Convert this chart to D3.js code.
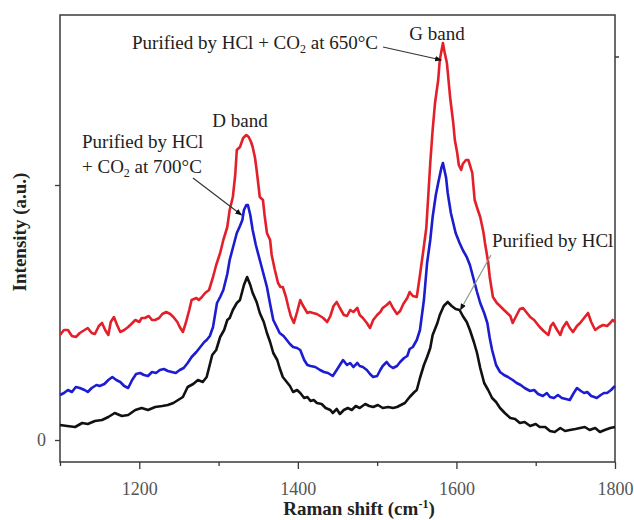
<!DOCTYPE html>
<html>
<head>
<meta charset="utf-8">
<script src="https://cdn.jsdelivr.net/npm/d3@7"></script>
<style>
  body { margin: 0; background: #fff; }
  text { font-family: "Liberation Serif", "Times New Roman", serif; }
</style>
</head>
<body>
<script>
// Raman spectra, [shift cm-1, intensity a.u.]
const hcl = [
  [1100,15],[1109,14],[1119,13],[1128,17],[1135,16],[1144,19],[1153,20],[1161,23],[1169,27],[1178,24],
  [1186,25],[1195,30],[1203,32],[1211,30],[1220,33],[1229,34],[1236,35],[1243,37],[1249,40],[1255,43],
  [1261,53],[1268,56],[1274,60],[1280,58],[1285,63],[1292,85],[1297,90],[1302,103],[1307,110],[1311,120],
  [1314,122],[1318,130],[1323,137],[1327,140],[1332,155],[1336,163],[1340,155],[1343,147],[1348,138],[1352,127],
  [1357,118],[1361,107],[1365,98],[1369,87],[1374,80],[1377,72],[1381,63],[1386,58],[1390,54],[1394,48],
  [1399,50],[1403,47],[1408,42],[1412,43],[1416,39],[1420,40],[1424,37],[1430,36],[1435,32],[1441,30],
  [1444,27],[1449,31],[1453,26],[1458,30],[1463,32],[1468,30],[1473,34],[1478,32],[1485,36],[1490,34],
  [1495,33],[1501,35],[1507,32],[1514,33],[1520,32],[1525,33],[1530,35],[1535,37],[1541,43],[1547,48],
  [1550,50],[1554,62],[1559,75],[1563,83],[1567,92],[1570,105],[1576,117],[1579,125],[1584,134],[1589,138],
  [1594,134],[1599,131],[1604,130],[1608,124],[1613,118],[1617,110],[1622,98],[1626,87],[1630,72],[1635,57],
  [1640,50],[1645,42],[1650,38],[1655,32],[1661,27],[1668,22],[1674,21],[1680,17],[1686,18],[1693,14],
  [1700,16],[1705,13],[1712,13],[1718,9],[1724,8],[1731,12],[1737,9],[1743,10],[1750,11],[1756,12],
  [1762,13],[1768,10],[1775,12],[1781,8],[1787,10],[1794,12],[1800,13]
];

const co2_700 = [
  [1100,45],[1105,47],[1110,50],[1115,48],[1120,53],[1125,52],[1131,50],[1135,48],[1140,52],[1146,55],
  [1150,54],[1156,56],[1161,60],[1166,63],[1171,60],[1176,58],[1181,54],[1186,52],[1191,60],[1196,66],
  [1201,67],[1206,65],[1211,64],[1216,68],[1221,67],[1226,70],[1231,71],[1236,69],[1241,68],[1246,67],
  [1251,70],[1256,72],[1261,77],[1266,83],[1272,88],[1277,93],[1282,98],[1285,100],[1289,104],[1293,113],
  [1298,137],[1302,143],[1306,150],[1311,166],[1314,180],[1319,195],[1323,207],[1327,214],[1330,220],[1332,230],
  [1335,235],[1337,235],[1340,225],[1343,210],[1347,195],[1352,180],[1356,168],[1361,153],[1365,136],[1369,120],
  [1374,112],[1377,107],[1382,104],[1386,100],[1390,96],[1394,93],[1399,92],[1403,90],[1408,80],[1412,75],
  [1416,74],[1422,73],[1428,70],[1433,68],[1438,67],[1444,64],[1449,70],[1453,75],[1457,80],[1462,75],
  [1466,77],[1470,73],[1475,77],[1478,74],[1482,73],[1487,70],[1491,66],[1495,63],[1500,64],[1504,70],
  [1507,74],[1512,78],[1516,74],[1520,72],[1525,74],[1529,78],[1534,82],[1538,84],[1541,91],[1545,93],
  [1550,100],[1554,110],[1559,140],[1563,177],[1567,200],[1570,223],[1574,245],[1577,257],[1581,272],[1583,277],
  [1587,262],[1589,247],[1593,227],[1596,217],[1599,207],[1604,197],[1608,190],[1613,183],[1617,175],[1621,163],
  [1626,148],[1630,137],[1635,127],[1639,117],[1642,102],[1645,90],[1650,75],[1655,68],[1660,65],[1665,63],
  [1671,60],[1676,57],[1681,55],[1686,52],[1693,49],[1698,50],[1703,46],[1709,44],[1714,47],[1718,43],
  [1723,42],[1728,45],[1733,42],[1738,41],[1743,40],[1748,47],[1752,52],[1757,49],[1761,47],[1765,48],
  [1770,44],[1774,43],[1777,42],[1782,45],[1786,47],[1790,47],[1795,50],[1800,54]
];

const co2_650 = [
  [1100,105],[1105,110],[1110,110],[1115,104],[1120,103],[1125,107],[1131,110],[1135,112],[1140,107],[1144,106],
  [1149,114],[1153,117],[1157,110],[1161,105],[1164,118],[1168,123],[1172,115],[1176,108],[1181,110],[1186,113],
  [1190,116],[1195,120],[1200,118],[1203,122],[1207,122],[1212,124],[1216,120],[1220,120],[1225,122],[1229,126],
  [1234,128],[1239,126],[1243,123],[1248,118],[1251,113],[1255,108],[1259,118],[1263,130],[1266,140],[1272,142],
  [1275,140],[1279,143],[1283,147],[1288,150],[1293,163],[1297,175],[1302,187],[1306,200],[1311,213],[1314,230],
  [1318,243],[1321,265],[1323,290],[1327,293],[1331,302],[1335,305],[1338,303],[1341,298],[1343,293],[1346,282],
  [1348,270],[1352,243],[1356,240],[1358,225],[1361,207],[1365,200],[1367,185],[1371,170],[1375,157],[1378,153],
  [1381,153],[1385,143],[1388,133],[1391,124],[1395,117],[1399,128],[1403,140],[1406,135],[1412,127],[1415,128],
  [1419,127],[1424,126],[1428,124],[1432,122],[1437,118],[1441,124],[1445,134],[1449,138],[1453,132],[1458,125],
  [1462,124],[1466,130],[1470,128],[1475,132],[1478,125],[1482,122],[1487,117],[1491,112],[1495,120],[1500,125],
  [1504,128],[1507,132],[1512,135],[1516,138],[1520,132],[1525,126],[1529,129],[1533,136],[1538,142],[1541,148],
  [1545,144],[1550,143],[1554,165],[1558,188],[1562,212],[1567,277],[1570,310],[1573,337],[1577,360],[1579,380],
  [1583,397],[1585,388],[1588,377],[1592,343],[1596,317],[1598,300],[1601,287],[1603,275],[1606,270],[1608,276],
  [1612,280],[1615,280],[1617,275],[1620,267],[1623,240],[1627,230],[1630,223],[1634,208],[1636,197],[1640,178],
  [1642,163],[1646,143],[1651,137],[1655,134],[1660,130],[1664,127],[1668,124],[1671,117],[1676,125],[1680,131],
  [1684,132],[1689,127],[1693,123],[1698,120],[1702,116],[1705,113],[1710,109],[1716,105],[1719,114],[1722,117],
  [1727,110],[1731,105],[1734,112],[1739,118],[1743,112],[1747,108],[1752,114],[1756,117],[1761,122],[1766,127],
  [1770,118],[1775,110],[1780,113],[1785,115],[1790,114],[1794,117],[1797,120],[1800,118]
];

const xMajor = [1200, 1400, 1600, 1800];
const xMinor = [1100, 1300, 1500, 1700];
const yTicks = [0, 255];

const width = 634, height = 520;
const margin = {top: 15, right: 19, bottom: 58, left: 60};

const svg = d3.select('body').append('svg')
    .attr('width', width)
    .attr('height', height);

const x = d3.scaleLinear()
    .domain([1100, 1800])
    .range([margin.left, width - margin.right]);

const y = d3.scaleLinear()
    .domain([-22, 425])
    .range([height - margin.bottom, margin.top]);

const axisColor = '#3a3a3a';
const labelColor = '#555';

// frame
svg.append('rect')
    .attr('x', x(1100))
    .attr('y', y(425))
    .attr('width', x(1800) - x(1100))
    .attr('height', y(-22) - y(425))
    .attr('fill', 'none')
    .attr('stroke', axisColor)
    .attr('stroke-width', 1.5);

// bottom axis
const xAxis = svg.append('g')
    .attr('transform', `translate(0,${y(-22)})`)
    .call(d3.axisBottom(x).tickValues(xMajor).tickSize(7).tickFormat(d3.format('d')));
xAxis.select('.domain').remove();
xAxis.selectAll('line').attr('stroke', axisColor).attr('stroke-width', 1.3);
xAxis.selectAll('text')
    .attr('dy', 0)
    .attr('y', 33)
    .style('font-family', '"Liberation Serif", serif')
    .style('font-size', '18px')
    .attr('fill', labelColor);

svg.append('g')
    .attr('transform', `translate(0,${y(-22)})`)
    .call(d3.axisBottom(x).tickValues(xMinor).tickSize(4).tickFormat(''))
    .call(g => g.select('.domain').remove())
    .selectAll('line').attr('stroke', axisColor).attr('stroke-width', 1.3);

// left axis
const yAxis = svg.append('g')
    .attr('transform', `translate(${x(1100)},0)`)
    .call(d3.axisLeft(y).tickValues(yTicks).tickSize(5).tickFormat(d => d === 0 ? '0' : ''));
yAxis.select('.domain').remove();
yAxis.selectAll('line').attr('stroke', axisColor).attr('stroke-width', 1.3);
yAxis.selectAll('text')
    .attr('x', -14)
    .attr('dy', '0.32em')
    .style('font-family', '"Liberation Serif", serif')
    .style('font-size', '18px')
    .attr('fill', labelColor);

// small tick on right side
svg.append('line')
    .attr('x1', x(1800)).attr('x2', x(1800) + 4)
    .attr('y1', y(383)).attr('y2', y(383))
    .attr('stroke', axisColor).attr('stroke-width', 1.5);

// spectra
const line = d3.line()
    .x(d => x(d[0]))
    .y(d => y(d[1]));

const series = [
  {data: co2_650, color: '#e3202a'},
  {data: co2_700, color: '#1c1cd0'},
  {data: hcl, color: '#111111'}
];

svg.selectAll('path.spec')
    .data(series)
    .join('path')
    .attr('class', 'spec')
    .attr('d', d => line(d.data))
    .attr('fill', 'none')
    .attr('stroke', d => d.color)
    .attr('stroke-width', 2.6)
    .attr('stroke-linejoin', 'round');

// axis titles
svg.append('text')
    .attr('x', 359)
    .attr('y', 515)
    .attr('text-anchor', 'middle')
    .style('font-size', '19px')
    .style('font-weight', 'bold')
    .attr('fill', '#222')
    .text('Raman shift (cm')
    .call(t => t.append('tspan').attr('dy', -7).style('font-size', '12px').text('-1'))
    .call(t => t.append('tspan').attr('dy', 7).text(')'));

svg.append('text')
    .attr('transform', 'translate(26,232) rotate(-90)')
    .attr('text-anchor', 'middle')
    .style('font-size', '19px')
    .style('font-weight', 'bold')
    .attr('fill', '#222')
    .text('Intensity (a.u.)');

// annotations
const defs = svg.append('defs');
defs.append('marker')
    .attr('id', 'arrow')
    .attr('viewBox', '0 0 10 10')
    .attr('refX', 9).attr('refY', 5)
    .attr('markerWidth', 7).attr('markerHeight', 7)
    .attr('markerUnits', 'userSpaceOnUse')
    .attr('orient', 'auto')
    .append('path')
    .attr('d', 'M0,1 L10,5 L0,9 Z')
    .attr('fill', '#111');

const annText = (xp, yp, anchor) => svg.append('text')
    .attr('x', xp).attr('y', yp)
    .attr('text-anchor', anchor || 'start')
    .style('font-size', '19px')
    .attr('fill', '#222');

annText(437, 40, 'middle').text('G band');
annText(240, 127, 'middle').text('D band');

annText(132, 49)
    .text('Purified by HCl + CO')
    .call(t => t.append('tspan').attr('dy', 4).style('font-size', '12px').text('2'))
    .call(t => t.append('tspan').attr('dy', -4).text(' at 650°C'));

annText(82, 148).text('Purified by HCl');
annText(82, 173)
    .text('+ CO')
    .call(t => t.append('tspan').attr('dy', 4).style('font-size', '12px').text('2'))
    .call(t => t.append('tspan').attr('dy', -4).text(' at 700°C'));

annText(492, 247).text('Purified by HCl');

const arrows = [
  {from: [383, 47], to: [x(1581), y(380)], color: '#333'},
  {from: [193, 178], to: [x(1329), y(225)], color: '#333'},
  {from: [491, 255], to: [x(1605), y(130)], color: '#8a9a90'}
];

svg.selectAll('line.arrow')
    .data(arrows)
    .join('line')
    .attr('class', 'arrow')
    .attr('x1', d => d.from[0]).attr('y1', d => d.from[1])
    .attr('x2', d => d.to[0]).attr('y2', d => d.to[1])
    .attr('stroke', d => d.color)
    .attr('stroke-width', 1.2)
    .attr('marker-end', 'url(#arrow)');
</script>
</body>
</html>
